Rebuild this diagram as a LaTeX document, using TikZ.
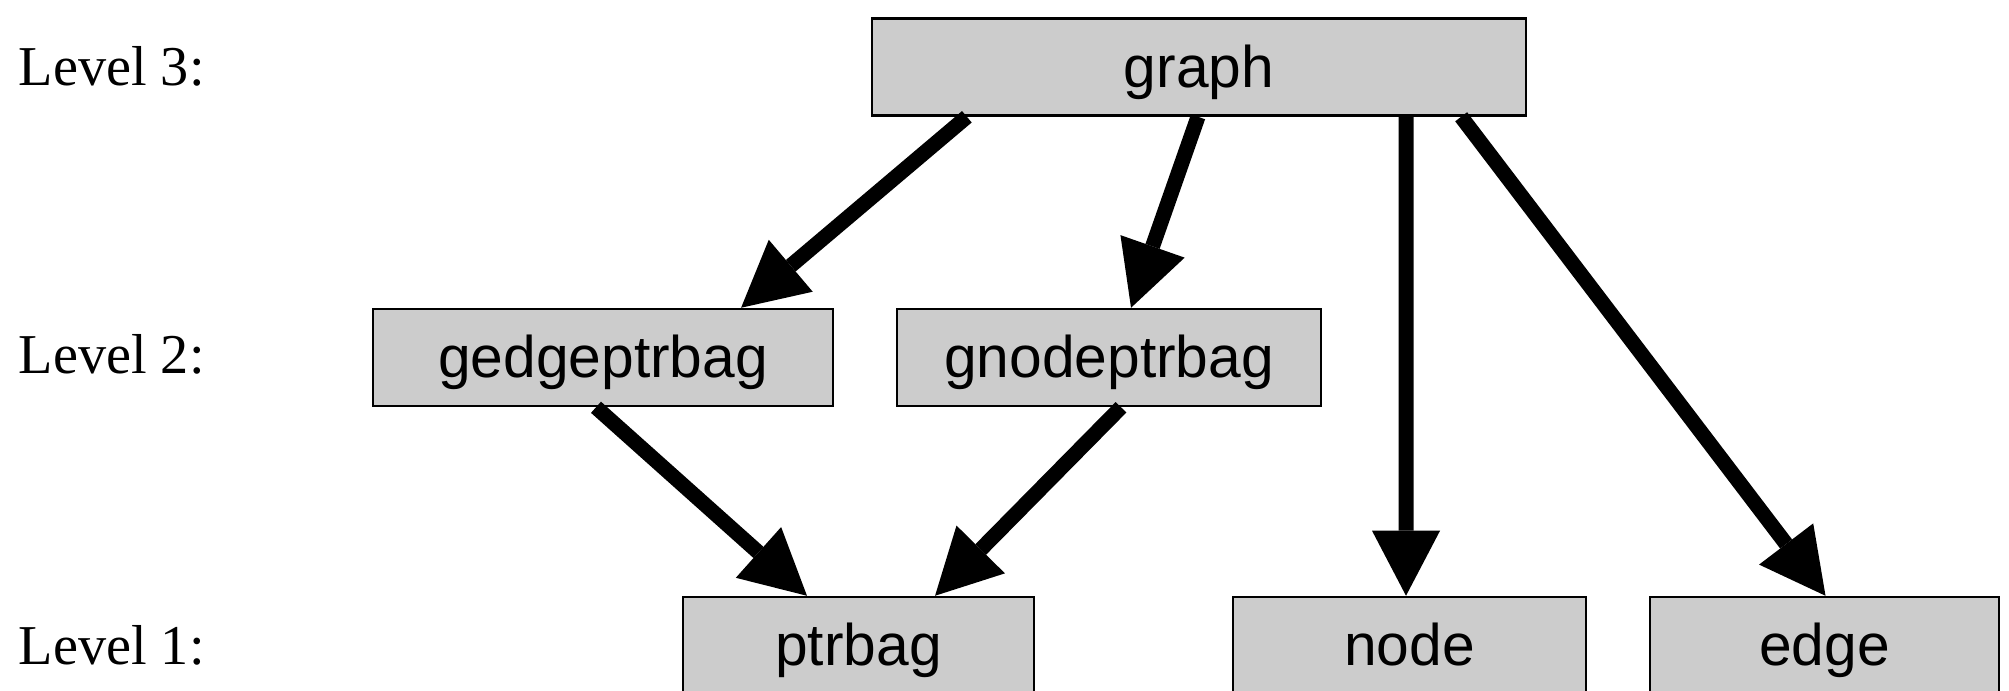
\documentclass[tikz,border=0pt]{standalone}
\usepackage{fontspec}
\setmainfont{Liberation Serif}
\setsansfont{Liberation Sans}
\usepackage{tikz}
\usetikzlibrary{arrows.meta, positioning}

\begin{document}
\begin{tikzpicture}[
  x=0.01cm, y=-0.01cm,
  box/.style={draw=black, fill=black!20, line width=0.7pt, inner sep=0pt,
    minimum height=0.97cm, text height=11.5pt, text depth=0pt,
    font=\sffamily\fontsize{16.7}{20}\selectfont},
  level/.style={anchor=base west, inner sep=0pt, font=\fontsize{16}{19}\selectfont},
  link/.style={line width=0.15cm, -{Triangle[length=6.5mm, width=6.8mm, line width=0pt]}},
]
  % Canvas
  \useasboundingbox (0,0) rectangle (2009,690);
  \clip (0,0) rectangle (2009,690);

  % Level labels
  \node[level] (lev3) at (18,85) {Level 3:};
  \node[level] (lev2) at (18,373) {Level 2:};
  \node[level] (lev1) at (18,664) {Level 1:};

  % Level 3
  \node[box, minimum width=6.54cm] (graph) at (1199,67) {graph};

  % Level 2
  \node[box, minimum width=4.60cm] (gedgeptrbag) at (603,357.5) {gedgeptrbag};
  \node[box, minimum width=4.24cm] (gnodeptrbag) at (1109,357.5) {gnodeptrbag};

  % Level 1 (cut off at the bottom)
  \node[box, minimum width=3.51cm] (ptrbag) at (858.5,645.5) {ptrbag};
  \node[box, minimum width=3.53cm] (node) at (1409.5,645.5) {node};
  \node[box, minimum width=3.49cm] (edge) at (1824.5,645.5) {edge};

  % Uses
  \draw[link] ([xshift=-2.32cm]graph.south) -- ([xshift=1.38cm]gedgeptrbag.north);
  \draw[link] ([xshift=-0.01cm]graph.south) -- ([xshift=0.22cm]gnodeptrbag.north);
  \draw[link] ([xshift=2.07cm]graph.south) -- ([xshift=-0.035cm]node.north);
  \draw[link] ([xshift=2.62cm]graph.south) -- ([xshift=0.01cm]edge.north);
  \draw[link] ([xshift=-0.07cm]gedgeptrbag.south) -- ([xshift=-0.515cm]ptrbag.north);
  \draw[link] ([xshift=0.12cm]gnodeptrbag.south) -- ([xshift=0.765cm]ptrbag.north);

\end{tikzpicture}
\end{document}
